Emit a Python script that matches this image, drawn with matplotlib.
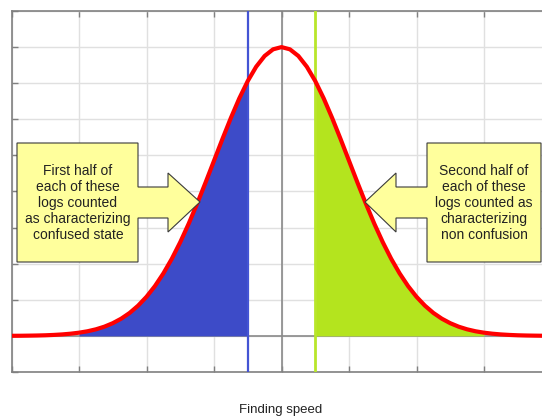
import numpy as np
import matplotlib
matplotlib.use("Agg")
import matplotlib.pyplot as plt
from matplotlib.patches import Polygon

plt.rcParams['font.family'] = ['Liberation Sans', 'DejaVu Sans']

# bell curve (height in grid units, 1 unit per grid step),
# sampled every 1/8 of a grid step
speed = np.array([-4.0, -3.875, -3.75, -3.625, -3.5, -3.375, -3.25, -3.125,
                  -3.0, -2.875, -2.75, -2.625, -2.5, -2.375, -2.25, -2.125,
                  -2.0, -1.875, -1.75, -1.625, -1.5, -1.375, -1.25, -1.125,
                  -1.0, -0.875, -0.75, -0.625, -0.5, -0.375, -0.25, -0.125,
                  0.0,
                  0.125, 0.25, 0.375, 0.5, 0.625, 0.75, 0.875, 1.0,
                  1.125, 1.25, 1.375, 1.5, 1.625, 1.75, 1.875, 2.0,
                  2.125, 2.25, 2.375, 2.5, 2.625, 2.75, 2.875, 3.0,
                  3.125, 3.25, 3.375, 3.5, 3.625, 3.75, 3.875, 4.0])
density = np.array([0.003, 0.004, 0.007, 0.011, 0.017, 0.027, 0.041, 0.061,
                    0.089, 0.128, 0.182, 0.255, 0.352, 0.477, 0.636, 0.837,
                    1.083, 1.380, 1.731, 2.136, 2.597, 3.108, 3.663, 4.249,
                    4.852, 5.455, 6.038, 6.581, 7.060, 7.457, 7.754, 7.938,
                    8.000,
                    7.938, 7.754, 7.457, 7.060, 6.581, 6.038, 5.455, 4.852,
                    4.249, 3.663, 3.108, 2.597, 2.136, 1.731, 1.380, 1.083,
                    0.837, 0.636, 0.477, 0.352, 0.255, 0.182, 0.128, 0.089,
                    0.061, 0.041, 0.027, 0.017, 0.011, 0.007, 0.004, 0.003])

first_half = (-3.0, -0.5)
second_half = (0.5, 3.0)

left_text = "First half of\neach of these\nlogs counted\nas characterizing\nconfused state"
right_text = "Second half of\neach of these\nlogs counted as\ncharacterizing\nnon confusion"
x_label = "Finding speed"

W, H = 542, 419
fig = plt.figure(figsize=(W / 100, H / 100), dpi=100)
ax = fig.add_axes([11.5 / W, 47 / H, 540 / W, 361 / H])

blue = '#3d4bc8'
green = '#b4e41e'

m1 = (speed >= first_half[0]) & (speed <= first_half[1])
m2 = (speed >= second_half[0]) & (speed <= second_half[1])
ax.fill_between(speed[m1], 0, density[m1], color=blue, lw=0, zorder=2)
ax.fill_between(speed[m2], 0, density[m2], color=green, lw=0, zorder=2)

ax.axvline(0, color='#8a8a8a', lw=1.2, zorder=1.5)
ax.axhline(0, color='#8a8a8a', lw=1.2, zorder=1.5)
ax.axvline(first_half[1], color='#4454d4', lw=1.6, zorder=3)
ax.axvline(second_half[0], color='#b8e62a', lw=2.0, zorder=3)

ax.plot(speed, density, color='#ff0000', lw=3.0, zorder=4, solid_capstyle='round')

ax.set_xlim(-4, 4)
ax.set_ylim(-1, 9)
ax.set_xticks(np.arange(-4, 5, 1))
ax.set_yticks(np.arange(-1, 10, 1))
ax.set_xticklabels([])
ax.set_yticklabels([])
ax.grid(True, color='#e0e0e0', lw=1.0, zorder=0)
ax.set_axisbelow(True)
ax.tick_params(direction='in', length=4, width=1, color='#808080',
               top=True, right=False)
for s in ['left', 'top', 'bottom']:
    ax.spines[s].set_color('#808080')
    ax.spines[s].set_linewidth(1.2)
ax.spines['right'].set_visible(False)


def px(pts):
    return [(x / W, 1 - y / H) for x, y in pts]


left_shape = [(17, 143), (138, 143), (138, 187), (168, 187), (168, 173), (200, 202),
              (168, 232), (168, 218), (138, 218), (138, 262), (17, 262)]
right_shape = [(541, 143), (427, 143), (427, 187), (396, 187), (396, 173), (365, 202),
               (396, 232), (396, 218), (427, 218), (427, 262), (541, 262)]
for shape in (left_shape, right_shape):
    fig.patches.append(Polygon(px(shape), closed=True, transform=fig.transFigure,
                               facecolor='#ffff9c', edgecolor='#3a3a3a', lw=0.8,
                               zorder=5))

fig.text(78 / W, 1 - 203 / H, left_text, ha='center', va='center', fontsize=10,
         linespacing=1.2, color='#222222', zorder=6)
fig.text(484 / W, 1 - 203 / H, right_text, ha='center', va='center', fontsize=10,
         linespacing=1.2, color='#222222', zorder=6)
fig.text(281 / W, 1 - 410 / H, x_label, ha='center', va='center', fontsize=9.5,
         color='#222222')

fig.savefig('out.png', dpi=100)
